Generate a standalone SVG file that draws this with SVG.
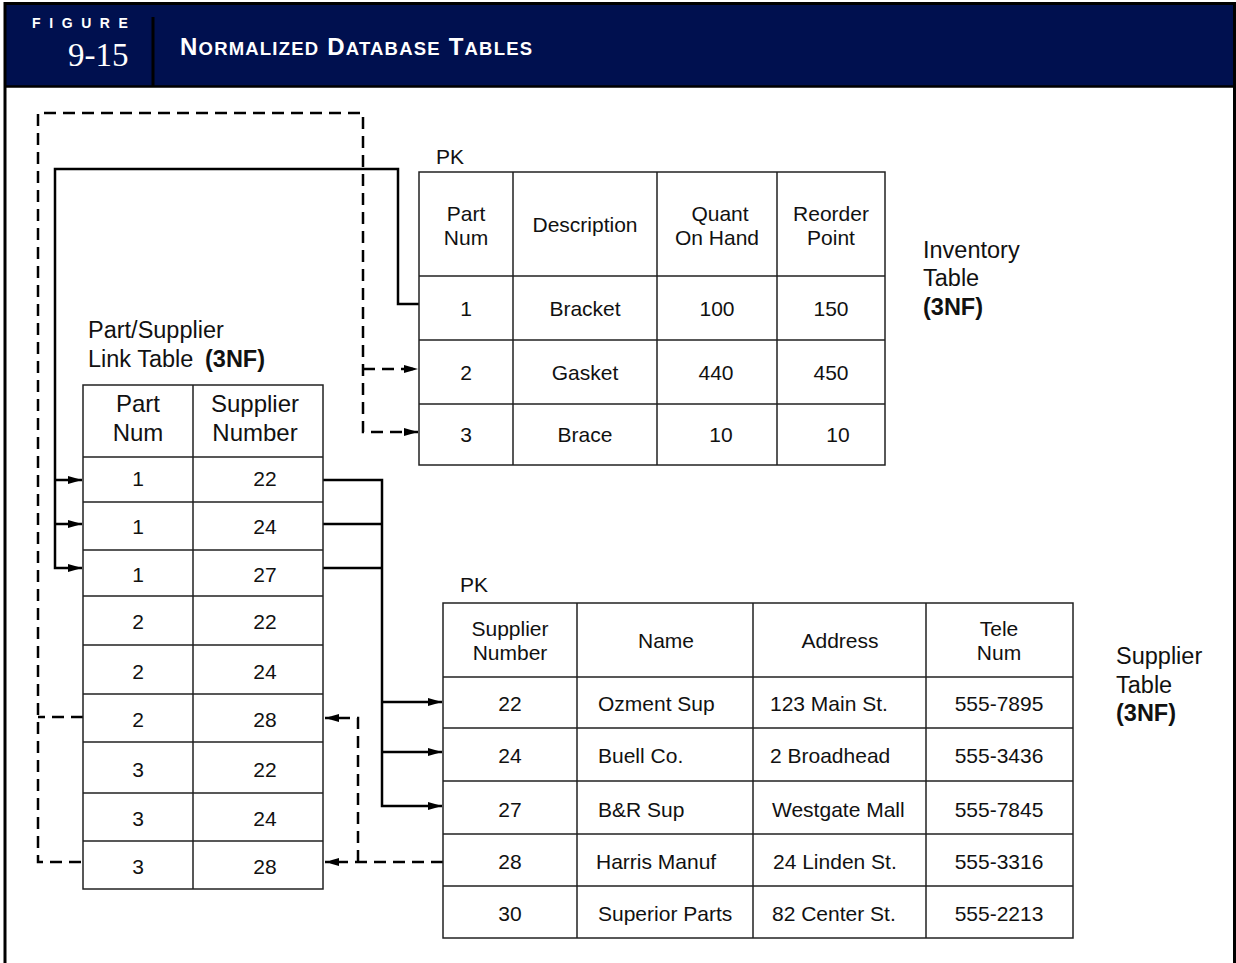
<svg xmlns="http://www.w3.org/2000/svg" width="1236" height="963" viewBox="0 0 1236 963">
<style>
text{font-family:"Liberation Sans",Arial,sans-serif;fill:#111}
.t{font-size:21px}
.c{text-anchor:middle}
.lab{font-size:23.5px}
.lh{font-size:24px}
.b{font-weight:bold}
.grid{fill:none;stroke:#222;stroke-width:1.5}
.sol{fill:none;stroke:#000;stroke-width:2.5}
.dash{fill:none;stroke:#000;stroke-width:2.5;stroke-dasharray:12 7}
.hd{fill:#fff}
</style>
<defs>
<marker id="ah" markerUnits="userSpaceOnUse" markerWidth="16" markerHeight="10" refX="14" refY="4" orient="auto">
<path d="M0,0 L14,4 L0,8 z" fill="#000"/>
</marker>
</defs>
<rect width="1236" height="963" fill="#fff"/>
<g id="header">
<rect x="5" y="4" width="1229" height="82" fill="#00104f"/>
<path d="M5,963 V3.5 H1234.5 V963" fill="none" stroke="#000" stroke-width="3"/>
<line x1="5" y1="86.5" x2="1234.5" y2="86.5" stroke="#000" stroke-width="2.5"/>
<line x1="153" y1="17" x2="153" y2="86" stroke="#000" stroke-width="3"/>
<text x="32" y="28" class="hd b" style="font-size:14px;letter-spacing:8.6px;fill:#fff">FIGURE</text>
<text x="68" y="66" style="font-family:'Liberation Serif','Times New Roman',serif;font-size:33px;fill:#fff">9-15</text>
<text x="180" y="55" class="b" style="fill:#fff;font-size:24px;letter-spacing:1.2px">N<tspan style="font-size:18.5px">ORMALIZED</tspan> D<tspan style="font-size:18.5px">ATABASE</tspan> T<tspan style="font-size:18.5px">ABLES</tspan></text>
</g>
<g id="connectors">
<path class="sol" d="M419,304 H398 V169 H55 V568 H82" marker-end="url(#ah)"/>
<path class="sol" d="M55,480 H82" marker-end="url(#ah)"/>
<path class="sol" d="M55,524 H82" marker-end="url(#ah)"/>
<path class="sol" d="M323,480 H382 V806 H442" marker-end="url(#ah)"/>
<path class="sol" d="M323,524 H382"/>
<path class="sol" d="M323,568 H382"/>
<path class="sol" d="M382,702 H442" marker-end="url(#ah)"/>
<path class="sol" d="M382,752 H442" marker-end="url(#ah)"/>
<path class="dash" d="M81,862 H38 V113 H363 V432 H418" marker-end="url(#ah)"/>
<path class="dash" d="M363,369 H418" marker-end="url(#ah)"/>
<path class="dash" d="M83,717 H38"/>
<path class="dash" d="M443,862 H325" marker-end="url(#ah)"/>
<path class="dash" d="M358,862 V718 H325" marker-end="url(#ah)"/>
</g>
<g id="inventory-table">
<text x="436" y="164" class="t">PK</text>
<rect x="419" y="172" width="466" height="293" class="grid"/>
<path class="grid" d="M513,172 V465 M657,172 V465 M777,172 V465 M419,276 H885 M419,340 H885 M419,404 H885"/>
<text class="t c" x="466" y="221">Part</text>
<text class="t c" x="466" y="245">Num</text>
<text class="t c" x="585" y="232">Description</text>
<text class="t c" x="720" y="221">Quant</text>
<text class="t c" x="717" y="245">On Hand</text>
<text class="t c" x="831" y="221">Reorder</text>
<text class="t c" x="831" y="245">Point</text>
<text class="t c" x="466" y="316">1</text>
<text class="t c" x="585" y="316">Bracket</text>
<text class="t c" x="717" y="316">100</text>
<text class="t c" x="831" y="316">150</text>
<text class="t c" x="466" y="380">2</text>
<text class="t c" x="585" y="380">Gasket</text>
<text class="t c" x="716" y="380">440</text>
<text class="t c" x="831" y="380">450</text>
<text class="t c" x="466" y="442">3</text>
<text class="t c" x="585" y="442">Brace</text>
<text class="t c" x="721" y="442">10</text>
<text class="t c" x="838" y="442">10</text>
<text class="lab" x="923" y="258">Inventory</text>
<text class="lab" x="923" y="286">Table</text>
<text class="lab b" x="923" y="315">(3NF)</text>
</g>
<g id="link-table">
<text class="lab" x="88" y="338">Part/Supplier</text>
<text class="lab" x="88" y="367">Link Table <tspan class="b" x="205">(3NF)</tspan></text>
<rect x="83" y="385" width="240" height="504" class="grid"/>
<path class="grid" d="M193,385 V889 M83,457 H323 M83,502 H323 M83,550 H323 M83,596 H323 M83,645 H323 M83,694 H323 M83,742 H323 M83,793 H323 M83,841 H323"/>
<text class="lh c" x="138" y="412">Part</text>
<text class="lh c" x="138" y="441">Num</text>
<text class="lh c" x="255" y="412">Supplier</text>
<text class="lh c" x="255" y="441">Number</text>
<text class="t c" x="138" y="486">1</text><text class="t c" x="265" y="486">22</text>
<text class="t c" x="138" y="534">1</text><text class="t c" x="265" y="534">24</text>
<text class="t c" x="138" y="582">1</text><text class="t c" x="265" y="582">27</text>
<text class="t c" x="138" y="629">2</text><text class="t c" x="265" y="629">22</text>
<text class="t c" x="138" y="679">2</text><text class="t c" x="265" y="679">24</text>
<text class="t c" x="138" y="727">2</text><text class="t c" x="265" y="727">28</text>
<text class="t c" x="138" y="777">3</text><text class="t c" x="265" y="777">22</text>
<text class="t c" x="138" y="826">3</text><text class="t c" x="265" y="826">24</text>
<text class="t c" x="138" y="874">3</text><text class="t c" x="265" y="874">28</text>
</g>
<g id="supplier-table">
<text x="460" y="592" class="t">PK</text>
<rect x="443" y="603" width="630" height="335" class="grid"/>
<path class="grid" d="M577,603 V938 M753,603 V938 M926,603 V938 M443,677 H1073 M443,728 H1073 M443,781 H1073 M443,834 H1073 M443,886 H1073"/>
<text class="t c" x="510" y="636">Supplier</text>
<text class="t c" x="510" y="660">Number</text>
<text class="t c" x="666" y="648">Name</text>
<text class="t c" x="840" y="648">Address</text>
<text class="t c" x="999" y="636">Tele</text>
<text class="t c" x="999" y="660">Num</text>
<text class="t c" x="510" y="711">22</text><text class="t" x="598" y="711">Ozment Sup</text><text class="t" x="770" y="711">123 Main St.</text><text class="t c" x="999" y="711">555-7895</text>
<text class="t c" x="510" y="763">24</text><text class="t" x="598" y="763">Buell Co.</text><text class="t" x="770" y="763">2 Broadhead</text><text class="t c" x="999" y="763">555-3436</text>
<text class="t c" x="510" y="817">27</text><text class="t" x="598" y="817">B&amp;R Sup</text><text class="t" x="772" y="817">Westgate Mall</text><text class="t c" x="999" y="817">555-7845</text>
<text class="t c" x="510" y="869">28</text><text class="t" x="596" y="869">Harris Manuf</text><text class="t" x="773" y="869">24 Linden St.</text><text class="t c" x="999" y="869">555-3316</text>
<text class="t c" x="510" y="921">30</text><text class="t" x="598" y="921">Superior Parts</text><text class="t" x="772" y="921">82 Center St.</text><text class="t c" x="999" y="921">555-2213</text>
<text class="lab" x="1116" y="664">Supplier</text>
<text class="lab" x="1116" y="693">Table</text>
<text class="lab b" x="1116" y="721">(3NF)</text>
</g>
</svg>
